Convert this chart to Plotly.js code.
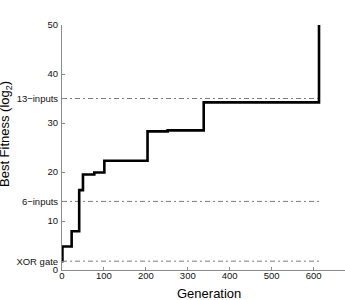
<!DOCTYPE html>
<html>
<head>
<meta charset="utf-8">
<script src="https://cdn.plot.ly/plotly-3.0.1.min.js"></script>
<style>
  html, body { margin: 0; padding: 0; background: #fff; overflow: hidden; }
  #chart { width: 345px; height: 300px; }
</style>
</head>
<body>
<div id="chart"></div>
<script>
// Best-so-far fitness per generation (log2 scale), stepwise
const generations = [0, 1, 23, 41, 50, 77, 101, 204, 252, 338, 613];
const bestFitness = [1.8, 4.8, 7.9, 16.3, 19.5, 19.9, 22.3, 28.3, 28.5, 34.2, 50];

// Reference fitness levels drawn as dash-dot guides
const levelNames = ['XOR gate', '6\u2212inputs', '13\u2212inputs'];
const levelValues = [1.8, 14, 35];
const levelSpan = [0, 613];

// Axis ticks
const xTicks = [0, 100, 200, 300, 400, 500, 600];
const yTicks = [0, 10, 20, 30, 40, 50];

const FONT = 'Liberation Sans, Arial, Helvetica, sans-serif';
const AXIS_GREY = '#8a8a8a';
const TICK_FONT = { family: FONT, size: 9.5, color: '#111' };

const traces = [];

levelValues.forEach((v, i) => {
  traces.push({
    x: levelSpan,
    y: [v, v],
    mode: 'lines',
    name: levelNames[i],
    line: { color: '#7a7a7a', width: 1, dash: '5px,3px,2px,3px' },
    hoverinfo: 'skip',
    showlegend: false
  });
});

traces.push({
  x: generations,
  y: bestFitness,
  mode: 'lines',
  line: { color: '#000000', width: 2.6, shape: 'hv' },
  showlegend: false
});

const layout = {
  width: 345,
  height: 300,
  margin: { l: 62, r: 0, t: 25, b: 30 },
  paper_bgcolor: '#ffffff',
  plot_bgcolor: '#ffffff',
  font: { family: FONT, size: 9.5, color: '#111' },
  showlegend: false,
  xaxis: {
    range: [0, 675],
    showgrid: false,
    zeroline: false,
    showline: true,
    linecolor: AXIS_GREY,
    linewidth: 1,
    ticks: 'inside',
    ticklen: 3,
    tickcolor: AXIS_GREY,
    tickvals: xTicks,
    ticktext: xTicks.map(String),
    tickfont: TICK_FONT,
    ticklabelstandoff: -3,
    fixedrange: true
  },
  yaxis: {
    range: [0, 50],
    showgrid: false,
    zeroline: false,
    showline: true,
    linecolor: AXIS_GREY,
    linewidth: 1,
    ticks: 'inside',
    ticklen: 3,
    tickcolor: AXIS_GREY,
    tickvals: yTicks.concat(levelValues),
    ticktext: yTicks.map(String).concat(levelNames),
    tickfont: TICK_FONT,
    ticklabelstandoff: 1,
    fixedrange: true
  },
  annotations: [
    {
      text: 'Generation',
      xref: 'paper', yref: 'paper',
      x: 0.52, y: 0,
      xanchor: 'center', yanchor: 'top',
      yshift: -14,
      showarrow: false,
      font: { family: FONT, size: 13, color: '#000' }
    },
    {
      text: 'Best Fitness (log<sub>2</sub>)',
      xref: 'paper', yref: 'paper',
      x: 0, y: 0.555,
      xanchor: 'center', yanchor: 'middle',
      xshift: -57,
      textangle: -90,
      showarrow: false,
      font: { family: FONT, size: 13, color: '#000' }
    }
  ]
};

Plotly.newPlot('chart', traces, layout, { displayModeBar: false, staticPlot: true });
</script>
</body>
</html>
